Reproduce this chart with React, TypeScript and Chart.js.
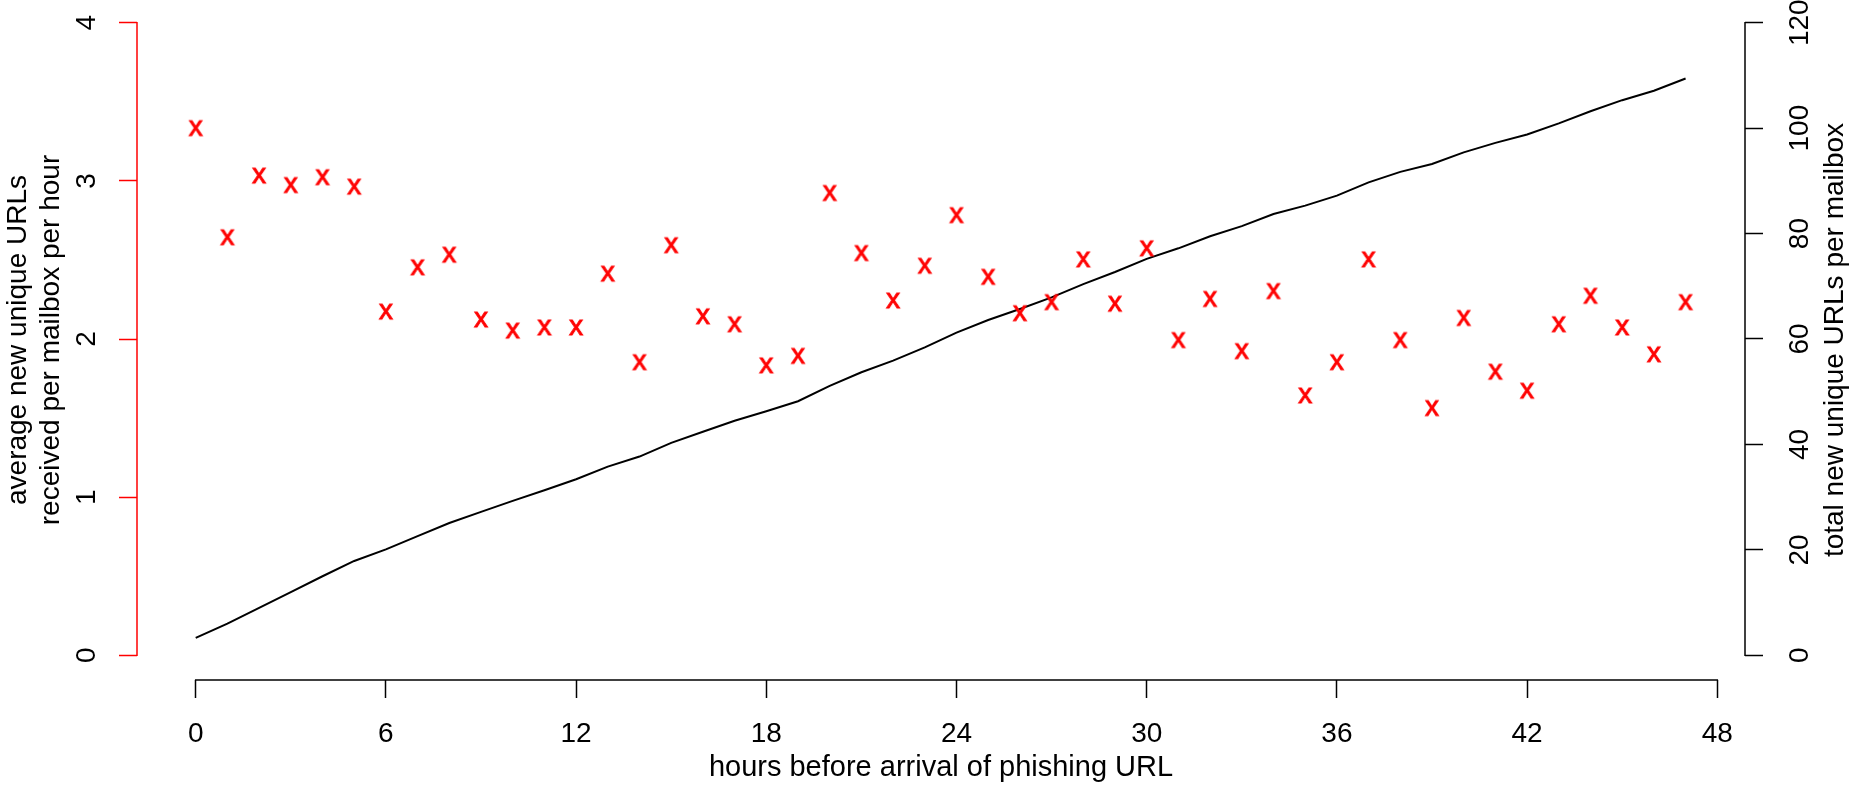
import React, { useEffect, useRef } from "react";
import { Chart, registerables } from "chart.js";

Chart.register(...registerables);

// ---- data ----
const hours = [
  0, 1, 2, 3, 4, 5, 6, 7, 8, 9, 10, 11, 12, 13, 14, 15, 16, 17, 18, 19, 20, 21, 22, 23,
  24, 25, 26, 27, 28, 29, 30, 31, 32, 33, 34, 35, 36, 37, 38, 39, 40, 41, 42, 43, 44, 45, 46, 47,
];
const avgNewUrlsPerHour = [
  3.33, 2.64, 3.03, 2.97, 3.02, 2.96, 2.17, 2.45, 2.53, 2.12, 2.05, 2.07, 2.07, 2.41, 1.85, 2.59,
  2.14, 2.09, 1.83, 1.89, 2.92, 2.54, 2.24, 2.46, 2.78, 2.39, 2.16, 2.23, 2.5, 2.22, 2.57, 1.99,
  2.25, 1.92, 2.3, 1.64, 1.85, 2.5, 1.99, 1.56, 2.13, 1.79, 1.67, 2.09, 2.27, 2.07, 1.9, 2.23,
];
const totalNewUrls = [
  3.3, 6.0, 9.0, 12.0, 15.0, 17.9, 20.1, 22.6, 25.1, 27.2, 29.3, 31.3, 33.4, 35.8, 37.7, 40.3,
  42.4, 44.5, 46.3, 48.2, 51.1, 53.7, 55.9, 58.4, 61.2, 63.6, 65.7, 67.9, 70.4, 72.7, 75.2, 77.2,
  79.5, 81.4, 83.7, 85.3, 87.2, 89.7, 91.7, 93.2, 95.4, 97.2, 98.8, 100.9, 103.2, 105.3, 107.1, 109.4,
];
const xTicks = [0, 6, 12, 18, 24, 30, 36, 42, 48];
const leftTicks = [0, 1, 2, 3, 4];
const rightTicks = [0, 20, 40, 60, 80, 100, 120];
const xTitle = "hours before arrival of phishing URL";
const leftTitle = ["average new unique URLs", "received per mailbox per hour"];
const rightTitle = "total new unique URLs per mailbox";

const FONT = "'Liberation Sans', Arial, Helvetica, sans-serif";
const FONT_SIZE = 28;
const RED = "#ff0000";

function makeXMarker(): HTMLCanvasElement {
  const c = document.createElement("canvas");
  c.width = 24;
  c.height = 24;
  const ctx = c.getContext("2d")!;
  ctx.fillStyle = RED;
  ctx.strokeStyle = RED;
  ctx.lineWidth = 0.9;
  ctx.font = `${FONT_SIZE}px ${FONT}`;
  ctx.textAlign = "center";
  ctx.textBaseline = "alphabetic";
  ctx.fillText("x", 12, 12 + 7.3);
  ctx.strokeText("x", 12, 12 + 7.3);
  return c;
}

const axisLinesPlugin = {
  id: "axisLines",
  afterDraw(chart: any) {
    const { ctx, chartArea, scales } = chart;
    const sx = scales.x;
    const sy = scales.y;
    const sy2 = scales.y2;
    ctx.save();
    ctx.lineWidth = 1.5;
    ctx.lineCap = "square";
    // bottom axis line (first to last tick)
    ctx.strokeStyle = "#000";
    ctx.beginPath();
    ctx.moveTo(sx.getPixelForValue(xTicks[0]), chartArea.bottom);
    ctx.lineTo(sx.getPixelForValue(xTicks[xTicks.length - 1]), chartArea.bottom);
    ctx.stroke();
    // left axis line, red
    ctx.strokeStyle = RED;
    ctx.beginPath();
    ctx.moveTo(chartArea.left, sy.getPixelForValue(leftTicks[0]));
    ctx.lineTo(chartArea.left, sy.getPixelForValue(leftTicks[leftTicks.length - 1]));
    ctx.stroke();
    // right axis line
    ctx.strokeStyle = "#000";
    ctx.beginPath();
    ctx.moveTo(chartArea.right, sy2.getPixelForValue(rightTicks[0]));
    ctx.lineTo(chartArea.right, sy2.getPixelForValue(rightTicks[rightTicks.length - 1]));
    ctx.stroke();
    // right axis title, reading bottom to top
    ctx.fillStyle = "#000";
    ctx.font = `${FONT_SIZE}px ${FONT}`;
    ctx.textAlign = "center";
    ctx.textBaseline = "middle";
    ctx.translate(sy2.right - 15, (chartArea.top + chartArea.bottom) / 2);
    ctx.rotate(-Math.PI / 2);
    ctx.fillText(rightTitle, 0, 0);
    ctx.restore();
  },
};

export default function App() {
  const canvasRef = useRef<HTMLCanvasElement | null>(null);

  useEffect(() => {
    const canvas = canvasRef.current;
    if (!canvas) return;
    const marker = makeXMarker();
    const font = { family: FONT, size: FONT_SIZE };

    const chart = new Chart(canvas, {
      type: "scatter",
      data: {
        datasets: [
          {
            label: "average per hour",
            data: hours.map((h, i) => ({ x: h, y: avgNewUrlsPerHour[i] })),
            xAxisID: "x",
            yAxisID: "y",
            pointStyle: marker as any,
            pointRadius: 8,
            showLine: false,
          },
          {
            label: "total",
            data: hours.map((h, i) => ({ x: h, y: totalNewUrls[i] })),
            xAxisID: "x",
            yAxisID: "y2",
            showLine: true,
            borderColor: "#000",
            borderWidth: 2,
            pointRadius: 0,
            tension: 0,
          },
        ],
      },
      options: {
        responsive: false,
        animation: false,
        layout: { padding: 0, autoPadding: false } as any,
        plugins: {
          legend: { display: false },
          tooltip: { enabled: false },
        },
        scales: {
          x: {
            type: "linear",
            position: "bottom",
            min: -1.852,
            max: 48.874,
            afterBuildTicks: (s: any) => {
              s.ticks = xTicks.map((v) => ({ value: v }));
            },
            afterFit: (s: any) => {
              s.height = 107;
              s.paddingLeft = 0;
              s.paddingRight = 0;
            },
            grid: {
              drawOnChartArea: false,
              drawTicks: true,
              tickLength: 18,
              tickColor: "#000",
              tickWidth: 1.5,
            },
            border: { display: false },
            ticks: {
              color: "#000",
              font,
              padding: 19,
              minRotation: 0,
              maxRotation: 0,
              autoSkip: false,
            },
            title: {
              display: true,
              text: xTitle,
              color: "#000",
              font: { family: FONT, size: 29 },
              padding: { top: 0, bottom: 2 },
            },
          },
          y: {
            type: "linear",
            position: "left",
            min: -0.156,
            max: 4.1435,
            afterBuildTicks: (s: any) => {
              s.ticks = leftTicks.map((v) => ({ value: v }));
            },
            afterFit: (s: any) => {
              s.width = 137;
              s.paddingTop = 0;
              s.paddingBottom = 0;
            },
            grid: {
              drawOnChartArea: false,
              drawTicks: true,
              tickLength: 18,
              tickColor: RED,
              tickWidth: 1.5,
            },
            border: { display: false },
            ticks: {
              color: "#000",
              font,
              padding: 24,
              minRotation: 90,
              maxRotation: 90,
              crossAlign: "center",
              autoSkip: false,
            },
            title: {
              display: true,
              text: leftTitle,
              color: "#000",
              font,
              padding: { top: 1, bottom: 0 },
            },
          },
          y2: {
            type: "linear",
            position: "right",
            min: -4.68,
            max: 124.3,
            afterBuildTicks: (s: any) => {
              s.ticks = rightTicks.map((v) => ({ value: v }));
            },
            afterFit: (s: any) => {
              s.width = 105;
              s.paddingTop = 0;
              s.paddingBottom = 0;
            },
            grid: {
              drawOnChartArea: false,
              drawTicks: true,
              tickLength: 18,
              tickColor: "#000",
              tickWidth: 1.5,
            },
            border: { display: false },
            ticks: {
              color: "#000",
              font,
              padding: 14,
              minRotation: 90,
              maxRotation: 90,
              crossAlign: "center",
              autoSkip: false,
            },
          },
        },
      } as any,
      plugins: [axisLinesPlugin],
    });

    return () => {
      chart.destroy();
    };
  }, []);

  return (
    <div style={{ position: "absolute", left: 0, top: 0, width: 1850, height: 787, background: "#fff" }}>
      <canvas ref={canvasRef} width={1850} height={787} style={{ display: "block" }} />
    </div>
  );
}
